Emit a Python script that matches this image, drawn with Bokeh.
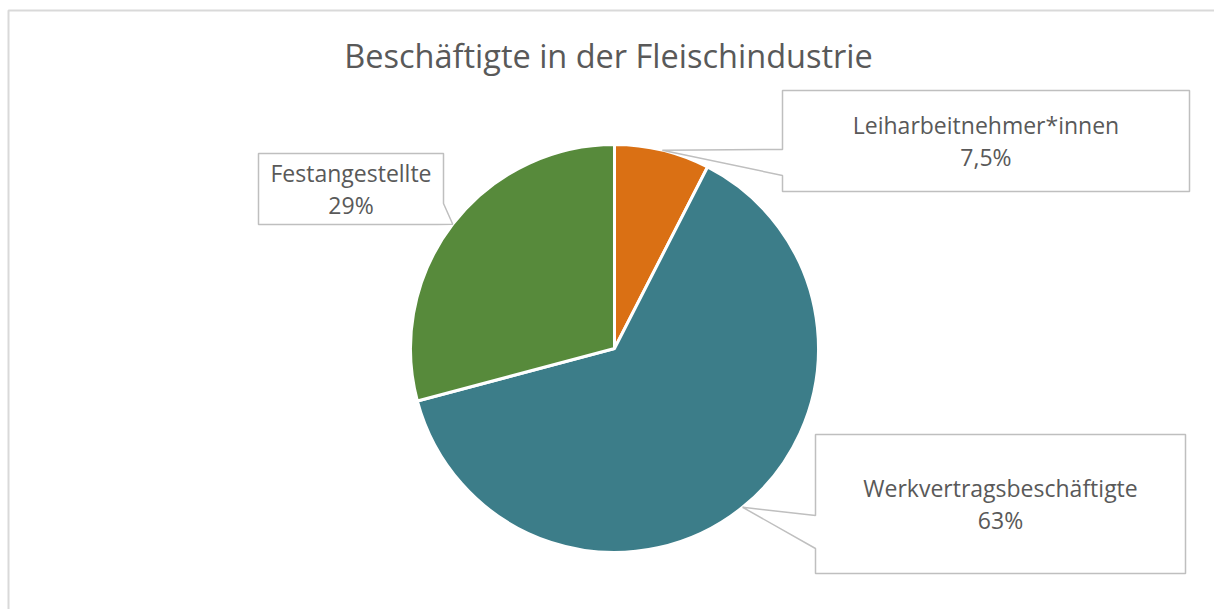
import math
from bokeh.plotting import figure
from bokeh.models import Range1d, ColumnDataSource
from bokeh.core.properties import value
from bokeh.embed import file_html
from bokeh.resources import INLINE

# ---- data ----
categories = ["Leiharbeitnehmer*innen", "Werkvertragsbeschäftigte", "Festangestellte"]
shares = [7.5, 63, 29]
share_labels = ["7,5%", "63%", "29%"]
colors = ["#DA7014", "#3C7D89", "#578A3B"]
title = "Beschäftigte in der Fleischindustrie"

# ---- layout (screen pixels, y downward) ----
W, H = 1214, 609
CX, CY, R = 614, 348, 204
FONT = "Open Sans"
TXT = "#595959"
EDGE = "#BFBFBF"

# label boxes: (left, top, right, bottom), side where pointer attaches, pointer base coords
boxes = [
    dict(box=(782, 90, 1189, 191), side="left", base=(149, 175)),
    dict(box=(815, 434, 1185, 573), side="left", base=(515, 548)),
    dict(box=(258, 153, 443, 224), side="rightbottom", base=(203, 437)),
]

def fy(y):
    return H - y

p = figure(width=W, height=H, x_range=Range1d(0, W), y_range=Range1d(0, H),
           output_backend="svg", toolbar_location=None, min_border=0)
p.axis.visible = False
p.grid.visible = False
p.outline_line_color = None
p.background_fill_color = "white"
p.border_fill_color = "white"

# chart border (top and left visible)
p.line(x=[8, 8, W + 5], y=[fy(H + 5), fy(10), fy(10)], line_color="#D9D9D9", line_width=2)

# pie
total = sum(shares)
starts, ends, mids = [], [], []
cum = 0.0
for s in shares:
    a0 = math.pi / 2 - 2 * math.pi * cum / total
    cum += s
    a1 = math.pi / 2 - 2 * math.pi * cum / total
    starts.append(a0)
    ends.append(a1)
    mids.append((a0 + a1) / 2)

src = ColumnDataSource(dict(start=starts, end=ends, color=colors))
p.wedge(x=CX, y=fy(CY), radius=R, start_angle="start", end_angle="end",
        direction="clock", fill_color="color", line_color="white", line_width=3,
        source=src)

# callouts
xs_list, ys_list = [], []
tx, ty1, ty2 = [], [], []
for b, m in zip(boxes, mids):
    l, t, r, btm = b["box"]
    tipx = CX + R * math.cos(m)
    tipy = CY - R * math.sin(m)
    if b["side"] == "left":
        yb1, yb2 = b["base"]
        pts = [(l, t), (r, t), (r, btm), (l, btm), (l, yb2), (tipx, tipy), (l, yb1)]
    else:
        yb1, xb2 = b["base"]
        pts = [(l, t), (r, t), (r, yb1), (tipx, tipy), (xb2, btm), (l, btm)]
    xs_list.append([q[0] for q in pts])
    ys_list.append([fy(q[1]) for q in pts])
    tx.append((l + r) / 2)
    ty1.append(fy((t + btm) / 2 - 16))
    ty2.append(fy((t + btm) / 2 + 16))

p.patches(xs=xs_list, ys=ys_list, fill_color="white", line_color=EDGE, line_width=1.5)

p.text(x=tx, y=ty1, text=categories, text_align="center", text_baseline="middle",
       text_font=value(FONT), text_font_size="23px", text_color=TXT)
p.text(x=tx, y=ty2, text=share_labels, text_align="center", text_baseline="middle",
       text_font=value(FONT), text_font_size="23px", text_color=TXT)

# title
p.text(x=[W / 2 + 1], y=[fy(55)], text=[title], text_align="center", text_baseline="middle",
       text_font=value(FONT), text_font_size="32.5px", text_color=TXT)

open("out.html", "w").write(file_html(p, INLINE))
